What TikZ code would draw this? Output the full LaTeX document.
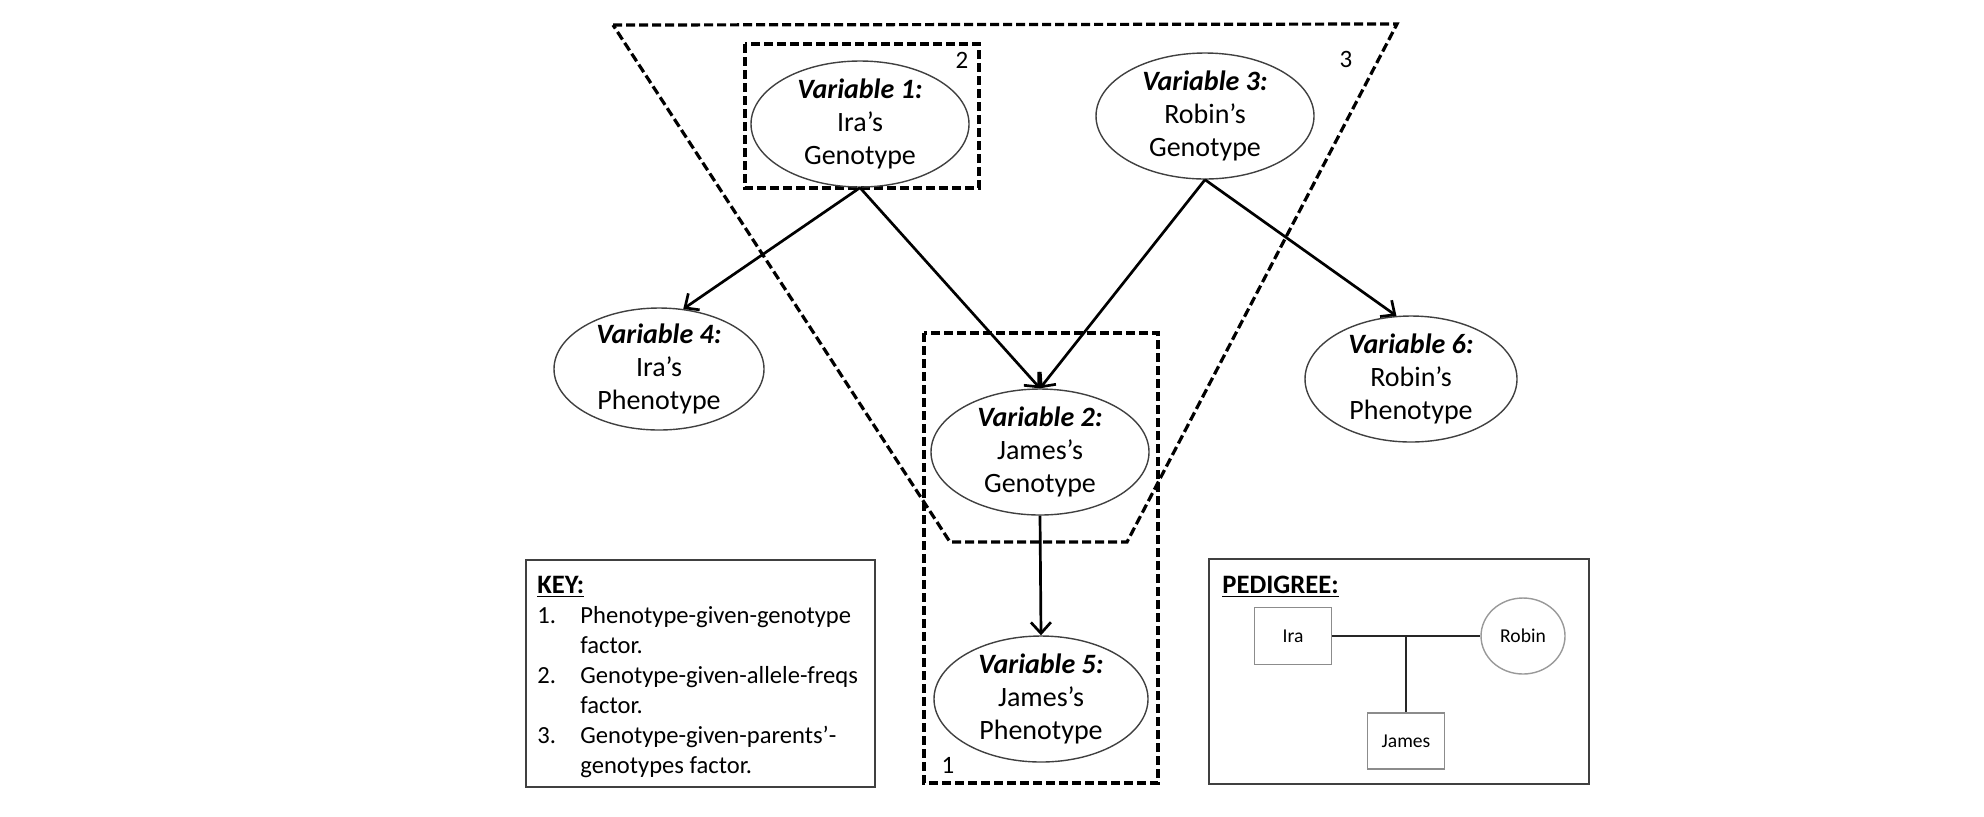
\documentclass[tikz,border=0pt]{standalone}
\usepackage{fontspec}
\setmainfont{Carlito}
\usetikzlibrary{shapes.geometric,arrows.meta,calc}
\begin{document}
\begin{tikzpicture}[x=0.5pt,y=-0.5pt,
  var/.style={ellipse, draw=black!75, line width=0.7pt, inner sep=-4pt, align=center,
    font=\fontsize{14}{16.6}\selectfont},
  factorbox/.style={draw=black, line width=1.6pt, dash pattern=on 4.5pt off 2pt},
  link/.style={line width=1.35pt, -{Straight Barb[length=5.5pt,width=10pt]}},
  flabel/.style={inner sep=0pt, font=\fontsize{12.5}{14}\selectfont},
  frame/.style={draw=black!75, line width=0.8pt, anchor=north west, inner sep=0pt},
  pedbox/.style={draw=black!45, line width=0.7pt, inner sep=0pt, font=\fontsize{9.8}{11}\selectfont},
  pedline/.style={draw=black!85, line width=1pt},
  title/.style={font=\fontsize{13.3}{15}\selectfont\bfseries, inner sep=0pt}
]
\useasboundingbox (0,0) rectangle (1984,816);

% factor regions
\draw[factorbox] (613,25) -- (1397,24) -- (1127,542) -- (950,542) -- cycle;
\draw[factorbox] (745,44) rectangle (979,188);
\draw[factorbox] (924,333) rectangle (1158,783);
\node[flabel] (l2) at (962,60) {2};
\node[flabel] (l3) at (1346,59) {3};
\node[flabel] (l1) at (948,765) {1};

% variables
\node[var, minimum width=109pt, minimum height=63pt] (v1) at (860,124)
  {\textbf{\textit{Variable 1:}}\\Ira’s\\Genotype};
\node[var, minimum width=109pt, minimum height=63pt] (v3) at (1205,116)
  {\textbf{\textit{Variable 3:}}\\Robin’s\\Genotype};
\node[var, minimum width=105pt, minimum height=61pt] (v4) at (659,369)
  {\textbf{\textit{Variable 4:}}\\Ira’s\\Phenotype};
\node[var, minimum width=106pt, minimum height=63pt] (v6) at (1411,379)
  {\textbf{\textit{Variable 6:}}\\Robin’s\\Phenotype};
\node[var, minimum width=109pt, minimum height=63pt] (v2) at (1040,452)
  {\textbf{\textit{Variable 2:}}\\James’s\\Genotype};
\node[var, minimum width=107pt, minimum height=63pt] (v5) at (1041,699)
  {\textbf{\textit{Variable 5:}}\\James’s\\Phenotype};

% arrows
\draw[link] (v1.south) -- (v4.68);
\draw[link] (v1.south) -- (v2.north);
\draw[link] (v3.south) -- (v2.north);
\draw[link] (v3.south) -- (v6.103);
\draw[link] (v2.south) -- (v5.north);

% key
\node[frame, minimum width=174.5pt, minimum height=113.5pt] (keyframe) at (525,559) {};
\node[anchor=north west, inner sep=0pt, font=\fontsize{12.3}{15}\selectfont] (keytext) at (537,572)
{\begin{tabular}{@{}p{21.5pt}@{}l@{}}
\multicolumn{2}{@{}l@{}}{\fontsize{13.3}{15}\selectfont\bfseries\underline{KEY:}}\\
1. & Phenotype-given-genotype\\
   & factor.\\
2. & Genotype-given-allele-freqs\\
   & factor.\\
3. & Genotype-given-parents’-\\
   & genotypes factor.
\end{tabular}};

% pedigree
\node[frame, minimum width=190pt, minimum height=112.5pt] (pedframe) at (1208,558) {};
\node[title, anchor=base west] (pedtitle) at (1222,593) {\underline{PEDIGREE:}};
\node[pedbox, minimum width=38.5pt, minimum height=28.5pt] (ira) at (1293,636) {Ira};
\node[pedbox, minimum width=38.5pt, minimum height=28pt] (james) at (1406,741) {James};
\node[pedbox, ellipse, draw=black!40, minimum width=42pt, minimum height=38pt] (robin) at (1523,636) {Robin};
\draw[pedline] (ira.east) -- (robin.west);
\coordinate (mid) at (james.north |- ira.east);
\draw[pedline] (mid) -- (james.north);
\end{tikzpicture}
\end{document}
